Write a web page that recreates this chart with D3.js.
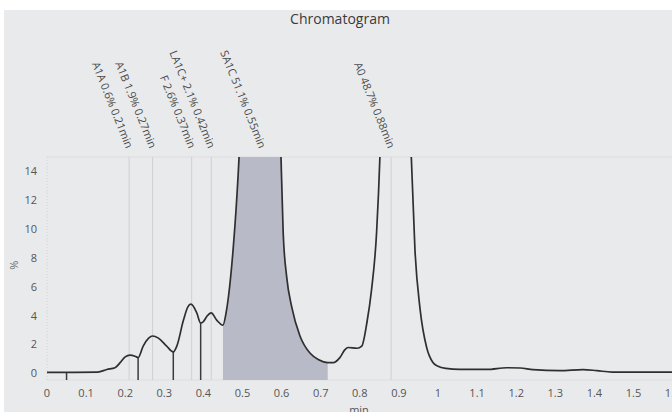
<!DOCTYPE html>
<html>
<head>
<meta charset="utf-8">
<script src="https://cdn.jsdelivr.net/npm/d3@7"></script>
<style>
  body { margin: 0; background: #fff; }
  svg { display: block; font-family: "Open Sans", "Noto Sans", sans-serif; }
</style>
</head>
<body>
<div class="js-chart"></div>
<script>
// retention time (min) and signal (%)
const times = [0, 0.05, 0.13, 0.153, 0.174, 0.187, 0.2, 0.212, 0.225, 0.233, 0.246, 0.26, 0.27, 0.285,
  0.306, 0.323, 0.332, 0.349, 0.36, 0.368, 0.383, 0.393, 0.4, 0.41, 0.42, 0.434, 0.45, 0.458, 0.464,
  0.476, 0.485, 0.492, 0.5, 0.52, 0.545, 0.57, 0.59, 0.598, 0.604, 0.613, 0.626, 0.647, 0.673, 0.695,
  0.718, 0.732, 0.749, 0.762, 0.77, 0.793, 0.805, 0.818, 0.83, 0.843, 0.852, 0.87, 0.89, 0.91, 0.931,
  0.941, 0.954, 0.971, 0.987, 1.0, 1.02, 1.056, 1.125, 1.176, 1.21, 1.243, 1.312, 1.371, 1.406, 1.445,
  1.6, 1.65];
const signal = [0.08, 0.08, 0.1, 0.28, 0.4, 0.75, 1.15, 1.28, 1.2, 1.1, 1.9, 2.45, 2.6, 2.45,
  1.9, 1.5, 1.9, 3.7, 4.6, 4.8, 4.2, 3.5, 3.6, 4.0, 4.2, 3.7, 3.35, 4.2, 5.3,
  8.6, 12, 15.5, 22, 34, 42, 36, 24, 15.5, 9.8, 6.7, 4.6, 2.6, 1.4, 0.95,
  0.75, 0.75, 1.1, 1.65, 1.8, 1.75, 1.9, 3.5, 5.8, 9.8, 15.5, 40, 55, 40, 15.5,
  8.6, 4.5, 1.8, 0.76, 0.5, 0.35, 0.28, 0.28, 0.4, 0.38, 0.27, 0.2, 0.27, 0.2, 0.1,
  0.1, 0.1];

const peakNames = ['A1A', 'A1B', 'F', 'LA1C+', 'SA1C', 'A0'];
const peakPct = ['0.6%', '1.9%', '2.6%', '2.1%', '51.1%', '48.7%'];
const peakTimes = [0.21, 0.27, 0.37, 0.42, 0.55, 0.88];

// boundaries between integrated peaks
const dropTimes = [0.05, 0.233, 0.323, 0.393];
const fillRange = [0.45, 0.718];

const xTicks = d3.range(0, 17).map(d => d / 10);
const yTicks = [0, 2, 4, 6, 8, 10, 12, 14];

window.onload = () => {
  const width = 672;
  const height = 412;
  const data = times.map((t, i) => ({ t, v: signal[i] }));

  const x = d3.scaleLinear().domain([0, 1.65]).range([47, 47 + 1.65 * 391]);
  const y = d3.scaleLinear().domain([-0.45, 15]).range([380, 157]);

  const svg = d3.select('.js-chart').append('svg')
    .attr('width', width)
    .attr('height', height);

  svg.append('rect')
    .attr('x', 4).attr('y', 10)
    .attr('width', width).attr('height', height)
    .attr('fill', '#e9eaec');

  svg.append('defs').append('clipPath').attr('id', 'plot-clip')
    .append('rect')
    .attr('x', x(0)).attr('y', y.range()[1])
    .attr('width', width).attr('height', y.range()[0] - y.range()[1]);

  // title
  svg.append('text')
    .attr('x', 340).attr('y', 24)
    .attr('text-anchor', 'middle')
    .attr('font-size', 14)
    .attr('fill', '#3a3a3a')
    .text('Chromatogram');

  // frame lines
  svg.append('line')
    .attr('x1', x(0)).attr('x2', width)
    .attr('y1', y.range()[1]).attr('y2', y.range()[1])
    .attr('stroke', '#dcdde1');
  svg.append('line')
    .attr('x1', x(0)).attr('x2', width)
    .attr('y1', y.range()[0]).attr('y2', y.range()[0])
    .attr('stroke', '#dcdde1');
  svg.append('line')
    .attr('x1', x(0)).attr('x2', x(0))
    .attr('y1', y.range()[1]).attr('y2', y.range()[0])
    .attr('stroke', '#d2d3d8')
    .attr('stroke-dasharray', '1,2');

  // y axis labels
  svg.append('g').selectAll('text')
    .data(yTicks).enter()
    .append('text')
    .attr('x', 37)
    .attr('y', d => y(d))
    .attr('dy', '0.35em')
    .attr('text-anchor', 'end')
    .attr('font-size', 11)
    .attr('fill', '#555')
    .text(d => d);

  svg.append('text')
    .attr('transform', `translate(18,${(y(0) + y(15)) / 2})rotate(-90)`)
    .attr('text-anchor', 'middle')
    .attr('font-size', 11)
    .attr('fill', '#666')
    .text('%');

  // x axis labels
  svg.append('g').selectAll('text')
    .data(xTicks).enter()
    .append('text')
    .attr('x', d => x(d))
    .attr('y', 397)
    .attr('text-anchor', 'middle')
    .attr('font-size', 11)
    .attr('fill', '#555')
    .text(d => d3.format('~g')(d));

  svg.append('text')
    .attr('x', 359).attr('y', 414)
    .attr('text-anchor', 'middle')
    .attr('font-size', 11)
    .attr('fill', '#555')
    .text('min');

  const plot = svg.append('g').attr('clip-path', 'url(#plot-clip)');

  // peak marker lines
  plot.selectAll('.peak-line')
    .data(peakTimes).enter()
    .append('line')
    .attr('class', 'peak-line')
    .attr('x1', d => x(d)).attr('x2', d => x(d))
    .attr('y1', y.range()[1]).attr('y2', y.range()[0])
    .attr('stroke', '#cfd0d6');

  // integrated main peak
  const area = d3.area()
    .curve(d3.curveMonotoneX)
    .x(d => x(d.t))
    .y0(y.range()[0])
    .y1(d => y(d.v));
  plot.append('path')
    .datum(data.filter(d => d.t >= fillRange[0] && d.t <= fillRange[1]))
    .attr('d', area)
    .attr('fill', '#b9bac8');

  // peak boundary drop lines
  plot.selectAll('.drop')
    .data(dropTimes).enter()
    .append('line')
    .attr('class', 'drop')
    .attr('x1', d => x(d)).attr('x2', d => x(d))
    .attr('y1', d => y(data.find(p => p.t === d).v))
    .attr('y2', y.range()[0])
    .attr('stroke', '#3b3b3b')
    .attr('stroke-width', 1.5);

  const line = d3.line()
    .curve(d3.curveMonotoneX)
    .x(d => x(d.t))
    .y(d => y(d.v));
  plot.append('path')
    .datum(data)
    .attr('d', line)
    .attr('fill', 'none')
    .attr('stroke', '#2f2f2f')
    .attr('stroke-width', 1.7);

  // rotated peak labels
  svg.append('g').selectAll('text')
    .data(peakTimes).enter()
    .append('text')
    .attr('transform', d => `translate(${x(d) - 3},149)rotate(68)`)
    .attr('text-anchor', 'end')
    .attr('font-size', 11)
    .attr('fill', '#4a4a4a')
    .text((d, i) => `${peakNames[i]} ${peakPct[i]} ${d}min`);
};
</script>
</body>
</html>
